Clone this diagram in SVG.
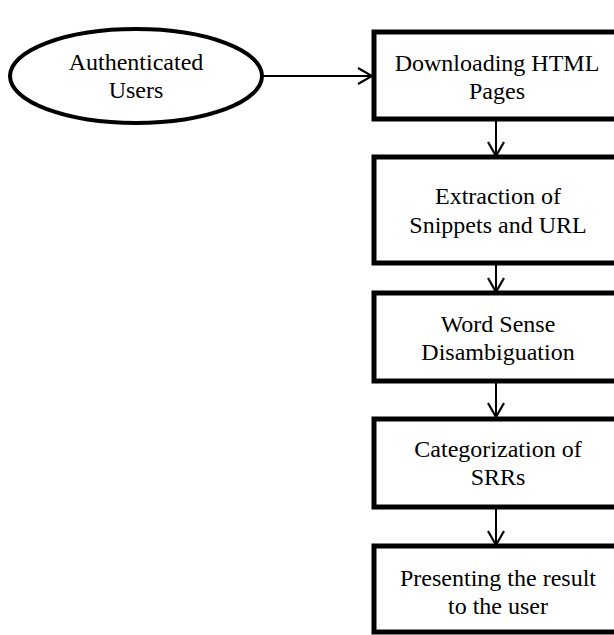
<svg xmlns="http://www.w3.org/2000/svg" width="614" height="635" viewBox="0 0 614 635">
<style>
.box{fill:#fff;stroke:#000;stroke-width:5}
.ell{fill:#fff;stroke:#000;stroke-width:4}
.lbl{font-family:"Liberation Serif","Times New Roman",serif;font-size:24px;fill:#000;text-anchor:middle}
.con{stroke:#000;stroke-width:2;fill:none}
</style>
<defs>
<marker id="arr" markerWidth="18" markerHeight="20" refX="16" refY="10" orient="auto" markerUnits="userSpaceOnUse">
<path d="M2,2 L16,10 L2,18" fill="none" stroke="#000" stroke-width="2.2"/>
</marker>
</defs>
<rect width="614" height="635" fill="#fff"/>
<g id="connectors">
<line class="con" x1="262" y1="76" x2="372" y2="76" marker-end="url(#arr)"/>
<line class="con" x1="496" y1="120" x2="496" y2="156" marker-end="url(#arr)"/>
<line class="con" x1="496" y1="263" x2="496" y2="292" marker-end="url(#arr)"/>
<line class="con" x1="496" y1="382" x2="496" y2="417" marker-end="url(#arr)"/>
<line class="con" x1="496" y1="508" x2="496" y2="545" marker-end="url(#arr)"/>
</g>
<g id="n-users">
<ellipse class="ell" cx="136" cy="76" rx="126" ry="47"/>
<text class="lbl" x="136" y="70">Authenticated</text>
<text class="lbl" x="136" y="98">Users</text>
</g>
<g id="n-download">
<rect class="box" x="374" y="32" width="250" height="87"/>
<text class="lbl" x="497" y="71">Downloading HTML</text>
<text class="lbl" x="497" y="99">Pages</text>
</g>
<g id="n-extract">
<rect class="box" x="374" y="157" width="250" height="106"/>
<text class="lbl" x="498" y="204">Extraction of</text>
<text class="lbl" x="498" y="233">Snippets and URL</text>
</g>
<g id="n-wsd">
<rect class="box" x="374" y="293" width="250" height="88"/>
<text class="lbl" x="498" y="332">Word Sense</text>
<text class="lbl" x="498" y="360">Disambiguation</text>
</g>
<g id="n-cat">
<rect class="box" x="374" y="419" width="250" height="88"/>
<text class="lbl" x="498" y="457">Categorization of</text>
<text class="lbl" x="498" y="485">SRRs</text>
</g>
<g id="n-present">
<rect class="box" x="374" y="546" width="250" height="86"/>
<text class="lbl" x="498" y="586">Presenting the result</text>
<text class="lbl" x="498" y="614">to the user</text>
</g>
</svg>
